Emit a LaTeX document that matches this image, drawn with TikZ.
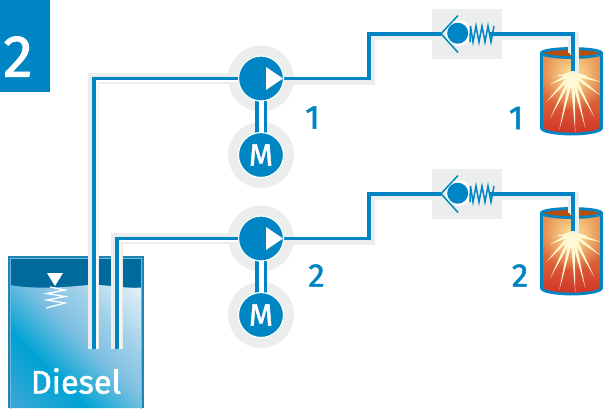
\documentclass[tikz,border=0pt]{standalone}
\usepackage{fontspec}
\setmainfont{Fira Sans}
\newfontfamily\medfont[FakeBold=1.6]{Fira Sans}
\usetikzlibrary{calc,fadings}
\tikzfading[name=glowfade,inner color=transparent!0,outer color=transparent!100]
\definecolor{pipeblue}{HTML}{0085C4}
\definecolor{halo}{HTML}{ECEEEE}
\definecolor{tankdark}{HTML}{006A9C}
\definecolor{tankedge}{HTML}{1C86B6}
\definecolor{tankinner}{HTML}{74B6D8}
\definecolor{rimbrown}{HTML}{B4500F}
\definecolor{raycol}{HTML}{FFF8D2}
\definecolor{glowcol}{HTML}{FFEB9E}
\definecolor{liqA}{HTML}{3FA8D8}
\definecolor{liqB}{HTML}{00A3D3}
\definecolor{liqC}{HTML}{7FC0E2}
\definecolor{liqD}{HTML}{9CCEE8}
\definecolor{liqE}{HTML}{F5FAFC}
\definecolor{fireA}{HTML}{E9934F}
\definecolor{fireB}{HTML}{E27A42}
\definecolor{fireC}{HTML}{DC5A35}
\definecolor{fireD}{HTML}{CE3328}
\pgfdeclarelayer{backlayer}
\pgfdeclarelayer{pipelayer}
\pgfsetlayers{backlayer,pipelayer,main}
\pgfdeclareverticalshading{liquid}{100bp}{
  color(0bp)=(liqA);
  color(14bp)=(liqA);
  color(34bp)=(liqB);
  color(50bp)=(liqC);
  color(60bp)=(liqD);
  color(82bp)=(liqE);
  color(100bp)=(white)}
\pgfdeclareverticalshading{fire}{100bp}{
  color(0bp)=(fireD);
  color(25bp)=(fireD);
  color(42bp)=(fireC);
  color(58bp)=(fireB);
  color(75bp)=(fireA);
  color(100bp)=(fireA)}
\tikzset{
  pipeline/.style={draw=pipeblue,line width=3.9pt,line join=miter},
  pipehalo/.style={draw=halo,line width=11.5pt,line join=miter},
  pipewhite/.style={draw=white,line width=5.5pt,line join=miter,transform canvas={xshift=1.1pt,yshift=-1.1pt}},
  exithalo/.style={draw=halo,line width=8pt,line join=miter},
  halodisc/.style={circle,fill=halo,minimum size=66pt,inner sep=0pt,outer sep=0pt},
  bluedisc/.style={circle,fill=pipeblue,draw=white,line width=1.2pt,minimum size=45pt,inner sep=0pt,outer sep=0pt},
  numlabel/.style={text=pipeblue,font=\fontsize{33}{33}\selectfont\medfont,inner sep=0pt},
  valvebox/.style={fill=halo,draw=none,minimum width=70pt,minimum height=50pt,inner sep=0pt},
  valveline/.style={draw=pipeblue,line width=1.5pt},
  springline/.style={draw=pipeblue,line width=1.5pt,line join=miter},
}
\begin{document}
\begin{tikzpicture}[x=1pt,y=-1pt]
\useasboundingbox (0,0) rectangle (603,408);
% badge
\fill[pipeblue] (0,0) rectangle (50,92);
\node[text=white,font=\fontsize{59}{59}\selectfont\medfont,inner sep=0pt] (badge) at (18,56.5) {2};

% tank
\begin{pgfonlayer}{backlayer}
\fill[tankedge] (8,256) rectangle (144,408);
\fill[tankdark] (10,258) rectangle (142,292);
\begin{scope}
  \clip (10,285) .. controls (28,288.5) and (55,288.5) .. (88,285)
        .. controls (105,284) and (125,289) .. (142,287.5) -- (142,408) -- (10,408) -- cycle;
  \shade[shading=liquid,shading angle=-45] (10,258) rectangle (142,408);
\end{scope}
\draw[tankinner,line width=1pt] (10.5,258.5) rectangle (141.5,409);
\end{pgfonlayer}
\node[text=white,font=\fontsize{32.5}{33}\selectfont\medfont,inner sep=0pt] (diesel) at (76,381) {Diesel};
\fill[white] (47,273) -- (63,273) -- (55,286) -- cycle;
\draw[white,line width=1.3pt] (50,287) -- (65,290) -- (47,293.5) -- (65,296.5) -- (47,300) -- (65,303) -- (46,308);
\coordinate (inA) at (93.7,349);
\coordinate (inB) at (116.8,349);

\foreach \r/\dy/\lx/\ly/\cx/\cy in {1/0/312.5/117.5/516/118, 2/160/316.5/275.5/520/275.5}{
  % main symbols
  \node[bluedisc] (pump\r) at (261,78.5+\dy) {};
  \fill[white] (266,67+\dy) -- (283,78.5+\dy) -- (266,90+\dy) -- cycle;
  \node[bluedisc,text=white,font=\fontsize{31}{31}\selectfont\medfont] (motor\r) at (261,155+\dy) {M};
  \node[numlabel] (plabel\r) at (\lx,\ly) {\r};
  \node[numlabel] (clabel\r) at (\cx,\cy) {\r};

  \begin{pgfonlayer}{backlayer}
    \node[halodisc] (phalo\r) at (261,78.5+\dy) {};
    \node[halodisc] (mhalo\r) at (261,155+\dy) {};
    \node[valvebox] (vbox\r) at (467,34+\dy) {};
    % cylinder
    \begin{scope}
      \clip (541.5,53+\dy) -- (541.5,128+\dy) arc[start angle=180,end angle=0,x radius=30,y radius=6] -- (601.5,53+\dy) -- cycle;
      \shade[shading=fire] (541.5,48+\dy) rectangle (601.5,135+\dy);
      \fill[glowcol,path fading=glowfade] (572.3,76+\dy) circle[radius=34];
      \foreach \tx/\ty in {-17/2,-22/10,-26/28,-22/44,-13/56,3/59,13/54,22/43,29/22,29/8,16/2}{
        \coordinate (cc) at (572.3,74+\dy);
        \coordinate (tt) at ($(cc)+(\tx,\ty)$);
        \fill[raycol] ($(cc)!2.2pt!90:(tt)$) -- (tt) -- ($(cc)!2.2pt!-90:(tt)$) -- cycle;
      }
      \fill[raycol] (572.3,76+\dy) ellipse[x radius=7.5,y radius=4.5];
    \end{scope}
    \fill[rimbrown] (571.5,53+\dy) ellipse[x radius=30,y radius=4.5];
    \draw[pipeblue,line width=2.8pt] (541.5,53+\dy) -- (541.5,128+\dy) arc[start angle=180,end angle=0,x radius=30,y radius=6] -- (601.5,53+\dy);
    \draw[pipeblue,line width=2.8pt] (571.5,53+\dy) ellipse[x radius=30,y radius=4.5];
  \end{pgfonlayer}

  % check valve
  \coordinate (apex\r) at (441,33.7+\dy);
  \coordinate (spr\r) at (490,33.7+\dy);
  \coordinate (end\r) at (573,71+\dy);
  \coordinate (riseb\r) at (368.7,33.7+\dy);
  \coordinate (rise\r) at (368.7,78.5+\dy);
  \fill[white] (458.5,33.2+\dy) circle[radius=13];
  \fill[pipeblue] (457.7,33.2+\dy) circle[radius=10.5];
  \draw[valveline] (458,15.5+\dy) -- (apex\r) -- (458,52.5+\dy);
  \draw[springline] (470,42+\dy) -- (470.5,26+\dy) -- (473,42+\dy) -- (476,26+\dy) -- (479,42+\dy) -- (482,26+\dy) -- (485,42+\dy) -- (488,26+\dy) -- (491,42+\dy) -- (494,26+\dy);

  % shaft and output pipes
  \begin{pgfonlayer}{pipelayer}
    \draw[pipeblue,line width=12pt] (pump\r) -- (motor\r);
    \draw[white,line width=5pt] (pump\r) -- (motor\r);
    \draw[exithalo,transform canvas={xshift=2.4pt,yshift=-2.4pt}] (pump\r.east) -- (rise\r) -- (riseb\r) -- (spr\r) -| (end\r);
    \fill[halo] (567.5,38+\dy) rectangle (578.5,53+\dy);
    \fill[white] (569.5,45+\dy) rectangle (576.5,55+\dy);
    \draw[pipeline] (pump\r.east) -- (rise\r) -- (riseb\r) -- (apex\r);
    \draw[pipeline] (spr\r) -| (end\r);
  \end{pgfonlayer}
}
% tank pipes
\begin{pgfonlayer}{pipelayer}
  \draw[pipehalo] (inA) |- (pump1.west);
  \draw[pipehalo] (inB) |- (pump2.west);
  \draw[pipewhite,shorten <=1pt] (inA) |- (pump1.west);
  \draw[pipewhite,shorten <=1pt] (inB) |- (pump2.west);
  \draw[pipeline] (inA) |- (pump1.west);
  \draw[pipeline] (inB) |- (pump2.west);
\end{pgfonlayer}
\end{tikzpicture}
\end{document}
